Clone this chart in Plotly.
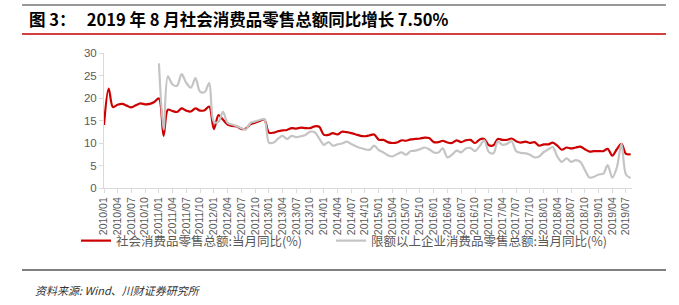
import pandas as pd
import plotly.graph_objects as go

# ---------------- data ----------------
months = pd.date_range("2010-01-01", "2019-08-01", freq="MS")

retail_total = (
    [14.0, 22.1, 18.0, 18.5, 18.7, 18.3, 17.9, 18.4, 18.8, 18.6, 18.7, 19.1] +   # 2010
    [19.9, 11.6, 17.4, 17.1, 16.9, 17.7, 17.2, 17.0, 17.7, 17.2, 17.3, 18.1] +   # 2011
    [13.1, 16.2, 15.2, 14.1, 13.8, 13.7, 13.1, 13.2, 14.2, 14.5, 14.9, 15.2] +   # 2012
    [12.3, 12.3, 12.6, 12.8, 12.9, 13.3, 13.2, 13.4, 13.3, 13.3, 13.7, 13.6] +   # 2013
    [11.8, 11.8, 12.2, 11.9, 12.5, 12.4, 12.2, 11.9, 11.6, 11.5, 11.7, 11.9] +   # 2014
    [10.7, 10.7, 10.2, 10.0, 10.1, 10.6, 10.5, 10.8, 10.9, 11.0, 11.2, 11.1] +   # 2015
    [10.2, 10.2, 10.5, 10.1, 10.0, 10.6, 10.2, 10.6, 10.7, 10.0, 10.8, 10.9] +   # 2016
    [9.5, 9.5, 10.9, 10.7, 10.7, 11.0, 10.4, 10.1, 10.3, 10.0, 10.2, 9.4] +      # 2017
    [9.7, 9.7, 10.1, 9.4, 8.5, 9.0, 8.8, 9.0, 9.2, 8.6, 8.1, 8.2] +              # 2018
    [8.2, 8.2, 8.7, 7.2, 8.6, 9.8, 7.6, 7.5]                                     # 2019
)

retail_above_limit = (
    [None] * 12 +                                                                # 2010
    [27.7, 13.0, 24.8, 23.0, 22.7, 25.3, 23.4, 22.3, 24.4, 21.4, 21.3, 23.3] +   # 2011
    [14.7, 14.7, 16.9, 14.5, 14.1, 13.8, 13.3, 13.0, 14.5, 14.8, 15.1, 15.3] +   # 2012
    [10.1, 10.1, 10.9, 11.6, 10.9, 11.6, 11.3, 11.5, 11.8, 12.5, 12.4, 11.0] +   # 2013
    [9.6, 10.2, 9.4, 9.7, 9.9, 10.3, 9.8, 9.3, 8.9, 8.6, 8.5, 9.4] +             # 2014
    [8.4, 7.9, 7.3, 7.0, 7.5, 7.9, 7.4, 8.2, 8.3, 8.6, 9.0, 8.6] +               # 2015
    [7.9, 7.9, 8.8, 6.8, 7.4, 8.3, 7.9, 8.8, 8.9, 8.2, 9.3, 10.6] +              # 2016
    [8.0, 7.7, 10.3, 9.6, 9.8, 10.4, 8.2, 7.8, 7.7, 7.4, 6.8, 7.0] +             # 2017
    [8.0, 8.6, 9.1, 7.0, 5.8, 6.6, 5.8, 6.2, 5.8, 4.0, 2.3, 2.5] +               # 2018
    [3.0, 3.2, 5.1, 2.3, 4.5, 9.8, 3.0, 2.2]                                     # 2019
)

tick_dates = months[::3]
tick_labels = [d.strftime("%Y/%m") for d in tick_dates]

name_total = "社会消费品零售总额:当月同比(%)"
name_above = "限额以上企业消费品零售总额:当月同比(%)"
NB = "\u00a0"
title_text = f"图{NB}3：{NB}{NB}{NB}2019{NB}年{NB}8{NB}月社会消费品零售总额同比增长{NB}7.50%"
source_text = "资料来源: Wind、川财证券研究所"

# ---------------- figure ----------------
W, H = 679, 305
L, R, T, B = 104, 47, 53, 117
pw, ph = W - L - R, H - T - B

def px_x(x):
    return (x - L) / pw

def px_y(y):
    return (H - B - y) / ph

CJK = "Noto Sans CJK SC"
fig = go.Figure()
fig.add_trace(go.Scatter(
    x=months, y=retail_total, name=name_total, mode="lines",
    line=dict(color="#CC0000", width=2.2, shape="spline", smoothing=0.9),
    legend="legend",
))
fig.add_trace(go.Scatter(
    x=months, y=retail_above_limit, name=name_above, mode="lines",
    line=dict(color="#C4C4C4", width=2.2, shape="spline", smoothing=0.9),
    connectgaps=False, legend="legend2",
))

axis_col = "#D9D9D9"
legend_font = dict(family=CJK, size=12.5, color="#595959")
fig.update_layout(
    width=W, height=H,
    margin=dict(l=L, r=R, t=T, b=B, pad=0),
    paper_bgcolor="white", plot_bgcolor="white",
    showlegend=True,
    legend=dict(
        orientation="h", x=px_x(76), y=px_y(241), xanchor="left", yanchor="middle",
        font=legend_font, bgcolor="rgba(0,0,0,0)",
    ),
    legend2=dict(
        orientation="h", x=px_x(331), y=px_y(241), xanchor="left", yanchor="middle",
        font=legend_font, bgcolor="rgba(0,0,0,0)",
    ),
    xaxis=dict(
        type="date", range=["2010-01-01", "2019-08-10"],
        tickmode="array", tickvals=list(tick_dates), ticktext=tick_labels,
        tickangle=-90, ticks="outside", ticklen=4, tickcolor=axis_col,
        showline=True, linecolor=axis_col, linewidth=1,
        showgrid=False, zeroline=False,
        tickfont=dict(family="Liberation Sans, Arial", size=10.5, color="#595959"),
    ),
    yaxis=dict(
        range=[0, 30], dtick=5, tick0=0,
        ticks="outside", ticklen=4, tickcolor=axis_col,
        showline=True, linecolor=axis_col, linewidth=1,
        showgrid=False, zeroline=False,
        tickfont=dict(family="Liberation Sans, Arial", size=11.5, color="#595959"),
    ),
)

shapes = [
    dict(type="line", xref="paper", yref="paper", x0=px_x(22), x1=px_x(666),
         y0=px_y(5), y1=px_y(5), line=dict(color="#333333", width=1.2)),
    dict(type="line", xref="paper", yref="paper", x0=px_x(22), x1=px_x(666),
         y0=px_y(34), y1=px_y(34), line=dict(color="#C00000", width=1.5)),
    dict(type="line", xref="paper", yref="paper", x0=px_x(22), x1=px_x(666),
         y0=px_y(270), y1=px_y(270), line=dict(color="#555555", width=1.5)),
]
fig.update_layout(shapes=shapes)

fig.add_annotation(
    text=title_text, xref="paper", yref="paper", x=px_x(27), y=px_y(19),
    xanchor="left", yanchor="middle", showarrow=False,
    font=dict(family=CJK, size=16.5, color="#000000", weight="bold"),
)
fig.add_annotation(
    text=source_text, xref="paper", yref="paper", x=px_x(33), y=px_y(290),
    xanchor="left", yanchor="middle", showarrow=False,
    font=dict(family=CJK, size=11, color="#333333", style="italic"),
)

fig.write_html("out.html")
